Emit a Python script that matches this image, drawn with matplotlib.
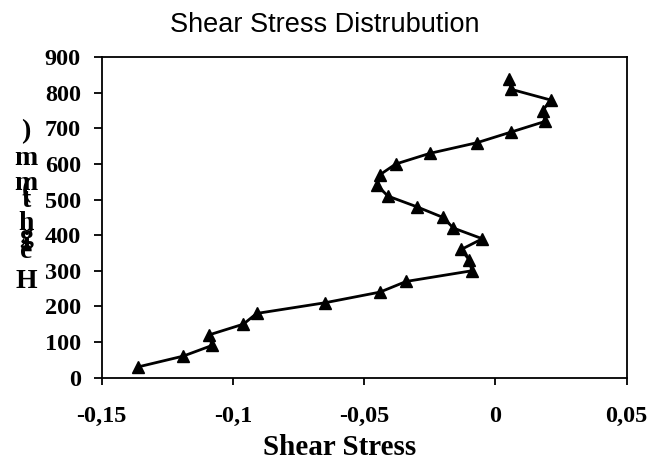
import matplotlib
matplotlib.use("Agg")
import matplotlib.pyplot as plt

# Data
shear_stress = [-0.136, -0.119, -0.108, -0.109, -0.096, -0.091, -0.065, -0.044,
                -0.034, -0.009, -0.010, -0.013, -0.005, -0.016, -0.020, -0.030,
                -0.041, -0.045, -0.044, -0.038, -0.025, -0.007, 0.006, 0.019,
                0.018, 0.021, 0.006, 0.005]
height_mm = [30, 60, 90, 120, 150, 180, 210, 240, 270, 300, 330, 360, 390, 420,
             450, 480, 510, 540, 570, 600, 630, 660, 690, 720, 750, 780, 810, 840]
x_ticks = [-0.15, -0.1, -0.05, 0, 0.05]
x_tick_labels = ["-0,15", "-0,1", "-0,05", "0", "0,05"]
y_ticks = [0, 100, 200, 300, 400, 500, 600, 700, 800, 900]

title_text = "Shear Stress Distrubution"
x_label = "Shear Stress"
y_label = "Height (mm)"

W, H = 649, 468
fig = plt.figure(figsize=(W / 100, H / 100), dpi=100)
ax = fig.add_axes([101.7 / W, 1 - 377.5 / H, (626.7 - 101.7) / W, (377.5 - 57.3) / H])

ax.plot(shear_stress, height_mm, color="black", linewidth=2.0,
        marker="^", markersize=8, markerfacecolor="black", markeredgecolor="black")

ax.set_xlim(-0.15, 0.05)
ax.set_ylim(0, 900)
ax.set_xticks(x_ticks)
ax.set_xticklabels(x_tick_labels)
ax.set_yticks(y_ticks)

serif = "Liberation Serif"
for lab in ax.get_xticklabels() + ax.get_yticklabels():
    lab.set_fontfamily(serif)
    lab.set_fontweight("bold")
    lab.set_fontsize(17.5)

ax.tick_params(axis="x", direction="out", length=5, width=1.3, pad=15.5)
ax.tick_params(axis="y", direction="out", length=6, width=1.3, pad=9)
for s in ax.spines.values():
    s.set_linewidth(1.3)
    s.set_color("black")

fig.text(0.5, 1 - 32 / H, title_text, ha="center", va="baseline",
         fontfamily="Liberation Sans", fontsize=19.5, color="black")
fig.text(340 / W, 1 - 455 / H, x_label, ha="center", va="baseline",
         fontfamily=serif, fontweight="bold", fontsize=21)

# vertical stacked y label (letters upright, bottom to top, overlapping as in the source)
chars = [c for c in y_label if c != " "]
baselines_px = [288, 258, 250, 243, 230, 207, 197, 190, 165, 138]
for c, yb in zip(chars, baselines_px):
    fig.text(26 / W, 1 - yb / H, c, ha="center", va="baseline",
             fontfamily=serif, fontweight="bold", fontsize=20)

fig.savefig("out.png", dpi=100)
